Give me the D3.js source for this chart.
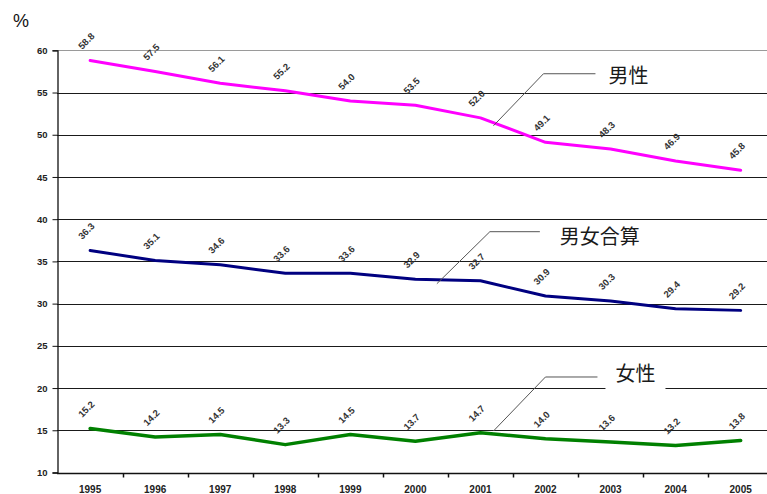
<!DOCTYPE html>
<html>
<head>
<meta charset="utf-8">
<script src="https://cdn.jsdelivr.net/npm/d3@7"></script>
<style>
  html, body { margin: 0; padding: 0; background: #fff; }
  svg { display: block; }
</style>
</head>
<body>
<div id="chart"></div>
<script>
// Years on the category axis
const years = ["1995","1996","1997","1998","1999","2000","2001","2002","2003","2004","2005"];
// Rates (%) by sex
const male   = [58.8, 57.5, 56.1, 55.2, 54.0, 53.5, 52.0, 49.1, 48.3, 46.9, 45.8];
const total  = [36.3, 35.1, 34.6, 33.6, 33.6, 32.9, 32.7, 30.9, 30.3, 29.4, 29.2];
const female = [15.2, 14.2, 14.5, 13.3, 14.5, 13.7, 14.7, 14.0, 13.6, 13.2, 13.8];
// Y axis ticks
const yTicks = [10, 15, 20, 25, 30, 35, 40, 45, 50, 55, 60];

const seriesNames  = ["男性", "男女合算", "女性"];
const seriesColors = ["#ff00ff", "#000080", "#008000"];

const W = 767, H = 494;
const svg = d3.select("#chart").append("svg").attr("width", W).attr("height", H);

const x = d3.scaleBand().domain(years).range([57.6, 773.2]).paddingInner(0).paddingOuter(0);
const y = d3.scaleLinear().domain([10, 60]).range([472.5, 50.3]);
const cx = d => x(d) + x.bandwidth() / 2;

// Horizontal gridlines
svg.append("g").selectAll("line").data(yTicks.filter(t => t > 10)).join("line")
  .attr("x1", 57).attr("x2", W)
  .attr("y1", d => Math.round(y(d)) + 0.5).attr("y2", d => Math.round(y(d)) + 0.5)
  .attr("stroke", d => d === 60 ? "#9a9a9a" : "#1a1a1a")
  .attr("stroke-width", 1);

// Y axis
const yAxis = svg.append("g").attr("transform", "translate(57.5,0)")
  .call(d3.axisLeft(y).tickValues(yTicks).tickSize(5).tickPadding(5).tickFormat(d3.format("d")));
yAxis.select(".domain").attr("stroke", "#111").attr("stroke-width", 1.3);
yAxis.selectAll(".tick line").attr("stroke", "#111");
yAxis.selectAll("text").attr("font-family", "Liberation Sans, Arial, sans-serif")
  .attr("font-size", 9.5).attr("font-weight", "bold").attr("fill", "#222");

// X axis with ticks on the category boundaries
const xAxisG = svg.append("g").attr("transform", `translate(0,${Math.round(y(10)) + 0.5})`);
xAxisG.append("line").attr("x1", 57).attr("x2", W).attr("stroke", "#111").attr("stroke-width", 1.3);
xAxisG.selectAll(".bt").data(years.slice(1)).join("line").attr("class", "bt")
  .attr("x1", d => Math.round(x(d)) + 0.5).attr("x2", d => Math.round(x(d)) + 0.5)
  .attr("y1", 0).attr("y2", 4).attr("stroke", "#111").attr("stroke-width", 1.5);
xAxisG.selectAll("text").data(years).join("text")
  .attr("x", d => cx(d)).attr("y", 19)
  .attr("text-anchor", "middle")
  .attr("font-family", "Liberation Sans, Arial, sans-serif")
  .attr("font-size", 10).attr("font-weight", "bold").attr("fill", "#222")
  .text(d => d);

// Unit label
svg.append("text").attr("x", 13).attr("y", 27)
  .attr("font-family", "Liberation Sans, Arial, sans-serif")
  .attr("font-size", 18).attr("fill", "#111").text("%");

// Lines and value labels
const seriesData = [male, total, female];
const line = d3.line().x((d, i) => cx(years[i])).y(d => y(d));

seriesData.forEach((vals, s) => {
  svg.append("path").datum(vals)
    .attr("d", line)
    .attr("fill", "none")
    .attr("stroke", seriesColors[s])
    .attr("stroke-width", s === 2 ? 3.5 : 3)
    .attr("stroke-linejoin", "round")
    .attr("stroke-linecap", "round");

  svg.append("g").selectAll("text").data(vals).join("text")
    .attr("transform", (d, i) => `translate(${cx(years[i]) - 8},${y(d) - 10.5}) rotate(-45)`)
    .attr("font-family", "Liberation Sans, Arial, sans-serif")
    .attr("font-size", 9.5).attr("font-weight", "bold").attr("fill", "#333")
    .text(d => d.toFixed(1));
});

// Callouts naming each series
function interp(vals, i, f) { return vals[i] + (vals[i + 1] - vals[i]) * f; }
const callouts = [
  { s: 0, i: 6, f: 0.2, dy0: 3,  dx: 50, dy: -52, len: 52, tx: 13, ty: 4,  box: false },
  { s: 1, i: 5, f: 0.33, dy0: 4, dx: 53, dy: -52, len: 50, tx: 20, ty: 7,  box: false },
  { s: 2, i: 6, f: 0.2, dy0: -3, dx: 52, dy: -54, len: 52, tx: 18, ty: -1, box: true }
];
callouts.forEach(c => {
  const vals = seriesData[c.s];
  const x0 = cx(years[c.i]) + x.step() * c.f;
  const y0 = y(interp(vals, c.i, c.f)) + c.dy0;
  const x1 = x0 + c.dx, y1 = y0 + c.dy, x2 = x1 + c.len;
  svg.append("path")
    .attr("d", `M${x0},${y0}L${x1},${y1}L${x2},${y1}`)
    .attr("fill", "none").attr("stroke", "#555").attr("stroke-width", 1);
  const g = svg.append("g");
  const t = g.append("text")
    .attr("x", x2 + c.tx).attr("y", y1 + c.ty)
    .attr("dominant-baseline", "middle")
    .attr("font-family", "Noto Sans CJK JP, sans-serif")
    .attr("font-size", 20).attr("fill", "#1a1a1a")
    .text(seriesNames[c.s]);
  if (c.box) {
    const b = t.node().getBBox();
    g.insert("rect", "text")
      .attr("x", b.x - 10).attr("y", b.y - 2)
      .attr("width", b.width + 20).attr("height", b.height + 4)
      .attr("fill", "#fff");
  }
});
</script>
</body>
</html>
